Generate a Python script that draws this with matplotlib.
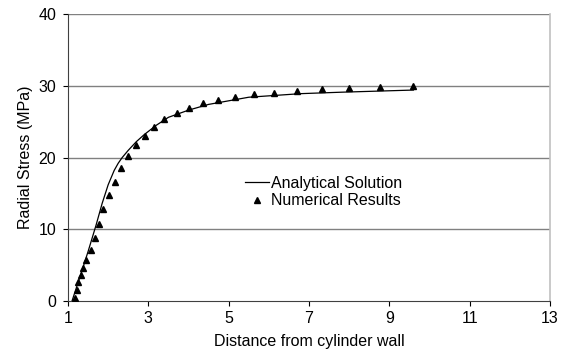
import matplotlib

matplotlib.use("Agg")
import matplotlib.pyplot as plt

plt.rcParams["font.family"] = ["Liberation Sans", "DejaVu Sans"]

# analytical radial stress curve
analytical_x = [1.10, 1.30, 1.50, 1.70, 1.85, 2.00, 2.15, 2.25, 2.35, 2.50, 2.70, 2.90,
                3.20, 3.50, 4.00, 4.50, 5.50, 6.80, 7.80, 9.60]
analytical_y = [0.0, 3.4, 6.9, 10.6, 13.6, 16.2, 18.2, 19.2, 20.0, 21.0, 22.2, 23.2,
                24.5, 25.6, 26.6, 27.4, 28.4, 28.9, 29.1, 29.4]

# numerical results
numerical_x = [1.17, 1.22, 1.25, 1.32, 1.38, 1.45, 1.57, 1.66, 1.77, 1.88, 2.02, 2.17, 2.32,
               2.50, 2.69, 2.92, 3.14, 3.40, 3.71, 4.01, 4.35, 4.74, 5.16, 5.63, 6.13, 6.71,
               7.32, 8.00, 8.77, 9.58]
numerical_y = [0.4, 1.5, 2.6, 3.6, 4.6, 5.7, 7.1, 8.8, 10.8, 12.8, 14.8, 16.6, 18.6,
               20.2, 21.7, 23.0, 24.2, 25.3, 26.2, 26.9, 27.6, 28.0, 28.5, 28.85, 29.0, 29.3,
               29.55, 29.73, 29.87, 29.97]

x_ticks = [1, 3, 5, 7, 9, 11, 13]
y_ticks = [0, 10, 20, 30, 40]

W, H = 570, 356
FS = 11.5
fig = plt.figure(figsize=(W / 100, H / 100), dpi=100)
ax = fig.add_axes([68 / W, 1 - 301 / H, (550 - 68) / W, (301 - 14) / H])

for y in y_ticks[1:]:
    ax.axhline(y, color="#808080", linewidth=1.0, zorder=1)

ax.plot(analytical_x, analytical_y, color="black", linewidth=0.9,
        label="Analytical Solution", zorder=3)
ax.plot(numerical_x, numerical_y, linestyle="none", marker="^", markersize=5,
        color="black", label="Numerical Results", zorder=4)

ax.set_xlim(1, 13)
ax.set_ylim(0, 40)
ax.set_xticks(x_ticks)
ax.set_yticks(y_ticks)
ax.tick_params(direction="out", length=3.5, width=0.8, labelsize=FS, colors="black")
ax.tick_params(axis="x", pad=3.5)
ax.tick_params(axis="y", pad=5)

ax.spines["top"].set_visible(False)
ax.spines["right"].set_color("#c0c0c0")
ax.spines["right"].set_linewidth(1.2)
for side in ("left", "bottom"):
    ax.spines[side].set_color("#404040")
    ax.spines[side].set_linewidth(0.8)

ax.set_xlabel("Distance from cylinder wall", fontsize=FS, labelpad=6)
ax.set_ylabel("Radial Stress (MPa)", fontsize=FS, labelpad=4)

ax.legend(loc="upper left", bbox_to_anchor=(237 / W, 1 - 168 / H),
          bbox_transform=fig.transFigure, frameon=False, fontsize=FS,
          handlelength=1.5, handletextpad=0.1, labelspacing=0.15, borderpad=0)

fig.savefig("out.png", dpi=100)
